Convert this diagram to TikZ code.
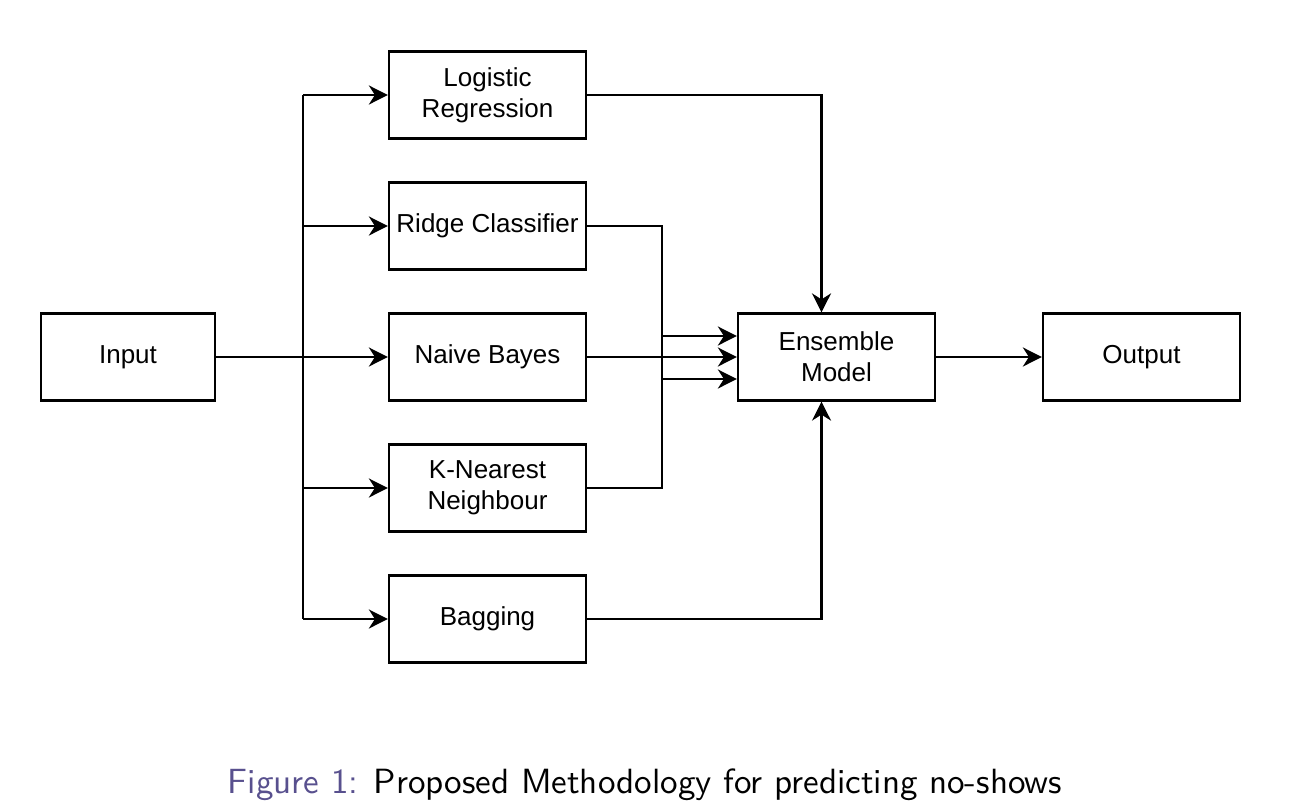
\documentclass[tikz,border=0pt]{standalone}
\usepackage{fontspec}
\setmainfont{Liberation Sans}
\setsansfont{Latin Modern Sans}
\usetikzlibrary{arrows.meta}
\definecolor{capcol}{RGB}{88,80,142}
\begin{document}
\begin{tikzpicture}[x=1pt,y=-1pt,
  box/.style={draw=black,line width=2.2pt,minimum width=197pt,minimum height=87pt,inner sep=0pt,align=center,font=\fontsize{26}{31}\selectfont},
  conn/.style={line width=2.3pt},
  arr/.style={line width=2.3pt,-{Stealth[length=19pt,width=19pt,inset=6pt]}}]
\useasboundingbox (0,0) rectangle (1294,806);
\node[box,minimum width=174pt] (in) at (128,357) {Input};
\node[box] (lr) at (487.5,95) {Logistic\\Regression};
\node[box] (rc) at (487.5,226) {Ridge Classifier};
\node[box] (nb) at (487.5,357) {Naive Bayes};
\node[box] (knn) at (487.5,488) {K-Nearest\\Neighbour};
\node[box] (bag) at (487.5,619) {Bagging};
\node[box] (ens) at (836.5,357) {Ensemble\\Model};
\node[box] (out) at (1141.5,357) {Output};
\coordinate (j) at (303,357);
\draw[conn] (in.east) -- (j);
\draw[conn] (303,95) -- (303,619);
\draw[arr] (303,95) -- (lr.west);
\draw[arr] (303,226) -- (rc.west);
\draw[arr] (j) -- (nb.west);
\draw[arr] (303,488) -- (knn.west);
\draw[arr] (303,619) -- (bag.west);
\draw[arr] (lr.east) -| ([xshift=-15pt]ens.north);
\draw[arr] (bag.east) -| ([xshift=-15pt]ens.south);
\draw[arr] (rc.east) -- (662,226) |- ([yshift=-22pt]ens.west);
\draw[arr] (knn.east) -- (662,488) |- ([yshift=21pt]ens.west);
\draw[arr] (nb.east) -- (ens.west);
\draw[arr] (ens.east) -- (out.west);
\node[anchor=center,inner sep=0pt] (cap) at (645,785) {\resizebox{834pt}{!}{\sffamily\textcolor{capcol}{Figure 1:} Proposed Methodology for predicting no-shows}};
\end{tikzpicture}
\end{document}
